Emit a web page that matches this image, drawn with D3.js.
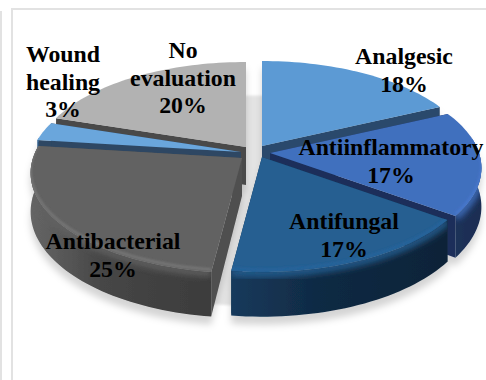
<!DOCTYPE html>
<html>
<head>
<meta charset="utf-8">
<style>
  html, body { margin: 0; padding: 0; background: #fff; }
  svg { display: block; }
  text { font-family: "Liberation Serif", "Times New Roman", serif; font-weight: bold; font-size: 23.8px; fill: #000; text-anchor: middle; }
</style>
<script src="https://cdn.jsdelivr.net/npm/d3@7/dist/d3.min.js"></script>
</head>
<body>
<script>
// Activity categories and their share of the total, clockwise from twelve o'clock
const categories = ["Analgesic", "Antiinflammatory", "Antifungal", "Antibacterial", "Wound healing", "No evaluation"];
const shares = [18, 17, 17, 25, 3, 20];
const labelLines = [["Analgesic"], ["Antiinflammatory"], ["Antifungal"], ["Antibacterial"], ["Wound", "healing"], ["No", "evaluation"]];

// Slice appearance: top face, outer wall (left, middle, right), cut wall
const topColors = ["#5b9ad4", "#416fbe", "#255e91", "#626262", "#6ba6dc", "#b2b2b2"];
const rimColors = [["#3f6f9f", "#34608c", "#2c5177"], ["#1c3159", "#1b2f55", "#1a2d52"], ["#163a5c", "#102a44", "#0e2338"], ["#666666", "#464646", "#3c3c3c"], ["#3f6f9f", "#34608c", "#2c5177"], ["#777", "#666", "#555"]];
const wallColors = ["#2b4a6c", "#1b2f5a", "#12304c", "#505050", "#2d4763", "#4a4a4a"];

// Where each exploded slice's tip sits, and where its label goes
const tips = [[262, 146], [270, 153], [262, 157], [242, 158], [241, 152], [246, 147]];
const labelAnchors = [[404, 64], [391, 155], [344, 229], [113, 249], [63, 62], [183, 58]];

const width = 486, height = 380;
const radiusX = 209, radiusY = 97.75, perspective = 0.15, depth = 38;

const svg = d3.select("body").append("svg").attr("width", width).attr("height", height);
const defs = svg.append("defs");

const shadow = defs.append("filter").attr("id", "drop")
  .attr("x", "-10%").attr("y", "-10%").attr("width", "120%").attr("height", "130%");
shadow.append("feDropShadow").attr("dx", 0).attr("dy", 8).attr("stdDeviation", 3.5)
  .attr("flood-color", "#000").attr("flood-opacity", 0.17);

defs.append("filter").attr("id", "soft").append("feGaussianBlur").attr("stdDeviation", 1.2);
defs.append("filter").attr("id", "softer").append("feGaussianBlur").attr("stdDeviation", 3);

// Frame lines around the panel
const frame = svg.append("g").attr("fill", "#e2e2e2");
frame.append("rect").attr("x", 0).attr("y", 11).attr("width", 2).attr("height", height - 11);
frame.append("rect").attr("x", 11).attr("y", 8).attr("width", 2).attr("height", height - 8);
frame.append("rect").attr("x", 11).attr("y", 8).attr("width", width - 11).attr("height", 2);

// Rim point of the tilted disc at a given angle, with perspective, on the top or base plane
function rim(tip, angle, drop) {
  const sx = Math.sin(angle), cz = Math.cos(angle);
  const w = 1 / (1 + perspective * cz);
  return [tip[0] + radiusX * sx * w, tip[1] - radiusY * cz * w + drop * w];
}
function rimRun(tip, a0, a1, drop) {
  const steps = Math.max(2, Math.ceil(Math.abs(a1 - a0) / 0.03));
  return d3.range(steps + 1).map(i => rim(tip, a0 + (a1 - a0) * i / steps, drop));
}
const line = d3.line();

const arcs = d3.pie().sort(null).startAngle(0).endAngle(2 * Math.PI)(shares);

// Contact shadow on the floor, seen through the gaps between slices
svg.append("path")
  .attr("d", line(rimRun([254, 151], 0, 2 * Math.PI, depth - 4)) + "Z")
  .attr("fill", "#000").attr("opacity", 0.1).attr("filter", "url(#soft)");

// Far slices first, near slices last, so nearer solids cover farther ones
const paintOrder = [5, 0, 4, 1, 3, 2];
const pie = svg.append("g").attr("filter", "url(#drop)");

paintOrder.forEach(i => {
  const a = arcs[i], tip = tips[i];
  const g = pie.append("g").attr("class", "slice");

  // Cut walls, running from the tip out to the rim at each end of the slice
  [a.startAngle, a.endAngle].forEach(angle => {
    const outer = rim(tip, angle, 0), outerBase = rim(tip, angle, depth);
    const apexBase = [tip[0], tip[1] + depth];
    g.append("path").attr("d", line([tip, outer, outerBase, apexBase]) + "Z")
      .attr("fill", wallColors[i]);
  });

  // Outer wall, only the part facing the viewer
  const from = Math.max(a.startAngle, Math.PI / 2 - 0.15);
  const to = Math.min(a.endAngle, 3 * Math.PI / 2 + 0.15);
  const facesViewer = to > from;
  if (facesViewer) {
    const gradId = "rim" + i;
    const grad = defs.append("linearGradient").attr("id", gradId)
      .attr("x1", 0).attr("y1", 0).attr("x2", 1).attr("y2", 0);
    grad.append("stop").attr("offset", "0%").attr("stop-color", rimColors[i][0]);
    grad.append("stop").attr("offset", "40%").attr("stop-color", rimColors[i][1]);
    grad.append("stop").attr("offset", "100%").attr("stop-color", rimColors[i][2]);
    const wall = rimRun(tip, from, to, 0).concat(rimRun(tip, to, from, depth));
    const wallPath = line(wall) + "Z";
    g.append("path").attr("d", wallPath).attr("fill", `url(#${gradId})`);

    // The wall catches the top face's colour just under the rounded edge
    defs.append("clipPath").attr("id", "wallClip" + i).append("path").attr("d", wallPath);
    g.append("g").attr("clip-path", `url(#wallClip${i})`)
      .append("path").attr("d", line(rimRun(tip, from, to, 1)))
      .attr("fill", "none")
      .attr("stroke", topColors[i])
      .attr("stroke-width", 7)
      .attr("filter", "url(#softer)");
  }

  // Top face
  const face = [tip].concat(rimRun(tip, a.startAngle, a.endAngle, 0));
  g.append("path").attr("d", line(face) + "Z").attr("fill", topColors[i]);

  // Lighter band just inside the front edge of the top face
  if (facesViewer) {
    defs.append("clipPath").attr("id", "faceClip" + i).append("path").attr("d", line(face) + "Z");
    g.append("g").attr("clip-path", `url(#faceClip${i})`)
      .append("path").attr("d", line(rimRun(tip, from, to, -2)))
      .attr("fill", "none")
      .attr("stroke", d3.color(topColors[i]).brighter(i === 3 ? 0.55 : 0.2))
      .attr("stroke-width", 2.5)
      .attr("filter", "url(#soft)");
  }
});

// Category name and share, centred on each anchor
const labels = svg.append("g");
categories.forEach((name, i) => {
  const lines = labelLines[i].concat(shares[i] + "%");
  const t = labels.append("text");
  lines.forEach((s, k) => {
    t.append("tspan").attr("x", labelAnchors[i][0]).attr("y", labelAnchors[i][1] + k * 27.5).text(s);
  });
});
</script>
</body>
</html>
